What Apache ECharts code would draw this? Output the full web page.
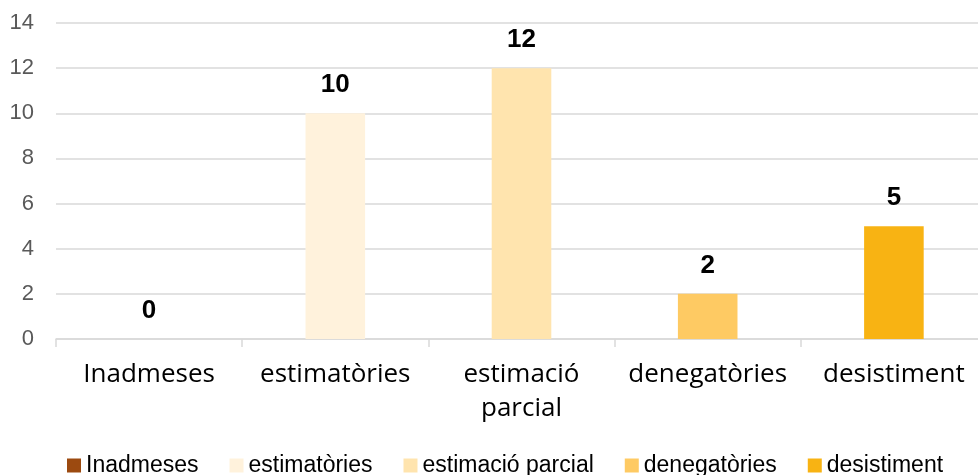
<!DOCTYPE html>
<html><head><meta charset="utf-8">
<script src="https://cdn.jsdelivr.net/npm/echarts@6/dist/echarts.min.js"></script>
<style>html,body{margin:0;padding:0;background:#fff;overflow:hidden;width:978px;height:475px}#c{width:992px;height:475px}</style>
</head><body><div id="c"></div>
<script>
const categories = ['Inadmeses', 'estimatòries', 'estimació\nparcial', 'denegatòries', 'desistiment'];
const seriesNames = ['Inadmeses', 'estimatòries', 'estimació parcial', 'denegatòries', 'desistiment'];
const values = [0, 10, 12, 2, 5];
const colors = ['#9C4A10', '#FFF2DC', '#FFE4AE', '#FECA63', '#F8B313'];
const yTicks = { min: 0, max: 14, interval: 2 };

const chart = echarts.init(document.getElementById('c'));
const series = seriesNames.map((name, i) => ({
  name: name,
  type: 'bar',
  stack: 'all',
  barWidth: '32%',
  itemStyle: { color: colors[i] },
  data: values.map((v, j) => (j === i ? v : '-')),
  label: {
    show: true, position: 'top', distance: 15,
    fontFamily: 'Liberation Sans', fontWeight: 'bold', fontSize: 26, color: '#000'
  }
}));
chart.setOption({
  animation: false,
  grid: { left: 56, top: 23, width: 931, height: 316, containLabel: false },
  legend: {
    top: 449, left: 62, itemWidth: 14, itemHeight: 14, itemGap: 31,
    icon: 'rect',
    textStyle: { fontFamily: 'Liberation Sans', fontSize: 23, color: '#000', padding: [0, 0, 0, 0] },
    data: seriesNames
  },
  xAxis: {
    type: 'category', data: categories,
    axisLine: { lineStyle: { color: '#D9D9D9', width: 1.5 } },
    axisTick: { show: true, length: 8, lineStyle: { color: '#D9D9D9', width: 1.5 } },
    axisLabel: { fontFamily: 'Open Sans', fontSize: 26, color: '#000', margin: 19, lineHeight: 34, interval: 0 }
  },
  yAxis: {
    type: 'value', min: yTicks.min, max: yTicks.max, interval: yTicks.interval,
    axisLine: { show: false }, axisTick: { show: false },
    splitLine: { lineStyle: { color: '#D9D9D9', width: 1.5 } },
    axisLabel: { fontFamily: 'Liberation Sans', fontSize: 22, color: '#595959', margin: 22, padding: [3, 0, 0, 0] }
  },
  series: series
});
</script></body></html>
